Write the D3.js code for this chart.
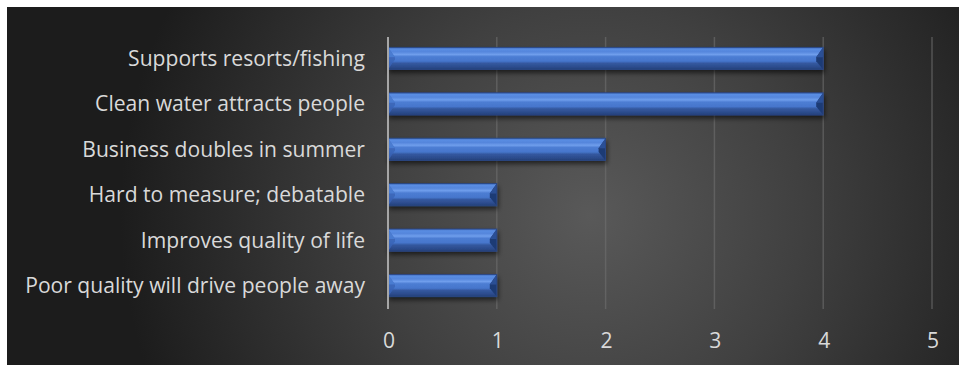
<!DOCTYPE html>
<html><head><meta charset="utf-8">
<script src="https://cdn.jsdelivr.net/npm/d3@7"></script>
<style>body{margin:0;background:#fff;}svg{display:block;}</style>
</head><body>
<svg id="c" width="959" height="365"></svg>
<script>
const categories = ["Supports resorts/fishing","Clean water attracts people","Business doubles in summer","Hard to measure; debatable","Improves quality of life","Poor quality will drive people away"];
const values = [4,4,2,1,1,1];
const tickValues = [0,1,2,3,4,5];

const svg = d3.select("#c");
const W = 959, H = 365;
const defs = svg.append("defs");

const bg = defs.append("radialGradient").attr("id","bg").attr("gradientUnits","userSpaceOnUse")
  .attr("cx",590).attr("cy",215).attr("r",470);
bg.append("stop").attr("offset","0").attr("stop-color","#595959");
bg.append("stop").attr("offset","0.45").attr("stop-color","#404040");
bg.append("stop").attr("offset","1").attr("stop-color","#1c1c1c");

const bar = defs.append("linearGradient").attr("id","barg").attr("x1",0).attr("x2",0).attr("y1",0).attr("y2",1);
[[0,"#3d67b5"],[0.08,"#5a8de3"],[0.2,"#5586dc"],[0.32,"#6f9eec"],[0.42,"#4d7dd3"],[0.62,"#4676cc"],[0.72,"#34589f"],[0.88,"#2c4c8d"],[1,"#243f78"]]
  .forEach(([o,c])=>bar.append("stop").attr("offset",o).attr("stop-color",c));

const sh = defs.append("filter").attr("id","sh").attr("x","-5%").attr("y","-30%").attr("width","110%").attr("height","170%");
sh.append("feGaussianBlur").attr("in","SourceAlpha").attr("stdDeviation",2.5);
sh.append("feOffset").attr("dx",1).attr("dy",3).attr("result","b");
sh.append("feComponentTransfer").append("feFuncA").attr("type","linear").attr("slope",0.6);
const m = sh.append("feMerge"); m.append("feMergeNode"); m.append("feMergeNode").attr("in","SourceGraphic");

svg.append("rect").attr("x",0).attr("y",0).attr("width",W).attr("height",H).attr("fill","#fff");
svg.append("rect").attr("x",7).attr("y",7).attr("width",W-7).attr("height",H-7).attr("fill","url(#bg)");

const x = d3.scaleLinear().domain([0,5]).range([388,932]);
const y = d3.scaleBand().domain(categories).range([36,308]).paddingInner(0.51).paddingOuter(0.25);

// gridlines
svg.append("g").selectAll("line").data(tickValues.filter(d=>d>0)).join("line")
  .attr("x1",d=>x(d)).attr("x2",d=>x(d)).attr("y1",37).attr("y2",309)
  .attr("stroke","#707070").attr("stroke-opacity",0.6).attr("stroke-width",1.5);

const FONT = "'Open Sans', sans-serif";

// bars
const g = svg.append("g");
categories.forEach((c,i)=>{
  const x0 = x(0), x1 = x(values[i]), y0 = y(c), h = y.bandwidth(), y1 = y0+h;
  const bv = 7;
  const gg = g.append("g").attr("filter","url(#sh)");
  gg.append("rect").attr("x",x0).attr("y",y0).attr("width",x1-x0).attr("height",h).attr("fill","url(#barg)");
  gg.append("polygon").attr("points",[[x0,y0],[x0+bv,y0+h*0.45],[x0+bv,y0+h*0.55],[x0,y1]].join(" "))
    .attr("fill","#3a64b6").attr("opacity",0.85);
  gg.append("polygon").attr("points",[[x0,y0],[x0+bv,y0+h*0.45],[x0,y0+h*0.45]].join(" "))
    .attr("fill","#4d7fd6").attr("opacity",0.8);
  gg.append("polygon").attr("points",[[x1,y0],[x1-bv,y0+h*0.45],[x1-bv,y0+h*0.62],[x1,y1]].join(" "))
    .attr("fill","#1f3b75");
  gg.append("polygon").attr("points",[[x1,y0],[x1-bv,y0+h*0.45],[x1,y0+h*0.45]].join(" "))
    .attr("fill","#2c4f95");
  gg.append("rect").attr("x",x0).attr("y",y0).attr("width",x1-x0).attr("height",h)
    .attr("fill","none").attr("stroke","#2a4786").attr("stroke-width",0.8);
});

// axis zero line
svg.append("line").attr("x1",x(0)).attr("x2",x(0)).attr("y1",37).attr("y2",309)
  .attr("stroke","#a6a6a6").attr("stroke-width",2);

// category labels
const labels = svg.append("g").selectAll("text").data(categories).join("text")
  .attr("x",365).attr("y",d=>y(d)+y.bandwidth()/2).attr("dy","0.35em")
  .attr("text-anchor","end").attr("fill","#d9d9d9")
  .style("font-family",FONT).style("font-size","18px").text(d=>d);
// fit font size so the longest label spans ~340px like the reference
const maxW = d3.max(labels.nodes(), n=>n.getComputedTextLength());
const fs = Math.min(22, 18*340/maxW);
labels.style("font-size",fs+"px");

// tick labels
svg.append("g").selectAll("text").data(tickValues).join("text")
  .attr("x",d=>x(d)+1).attr("y",341).attr("dy","0.35em")
  .attr("text-anchor","middle").attr("fill","#d9d9d9")
  .style("font-family",FONT).style("font-size",fs+"px").text(d=>d);
</script>
</body></html>
